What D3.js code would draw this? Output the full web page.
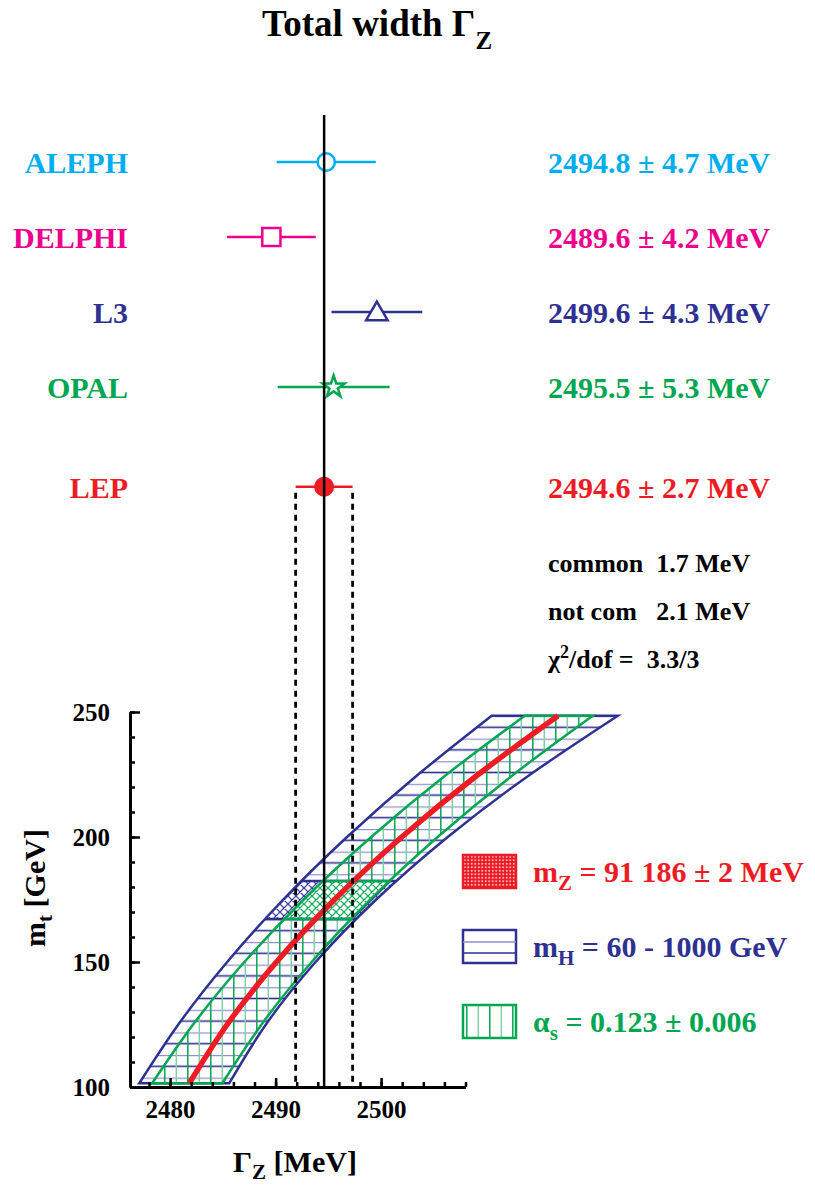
<!DOCTYPE html>
<html>
<head>
<meta charset="utf-8">
<script src="https://cdn.jsdelivr.net/npm/d3@7"></script>
<style>
  body { margin: 0; background: #fff; }
  svg text { font-family: "Liberation Serif", "Times New Roman", serif; font-weight: bold; }
</style>
</head>
<body>
<div id="chart"></div>
<script>
// Z width measurements
const experiments = ["ALEPH", "DELPHI", "L3", "OPAL", "LEP"];
const gammaZ = [2494.8, 2489.6, 2499.6, 2495.5, 2494.6];
const gammaErr = [4.7, 4.2, 4.3, 5.3, 2.7];
const summaryLines = ["common  1.7 MeV", "not com   2.1 MeV"];
const chi2Value = "3.3/3";

// SM prediction vs top mass
const mtPoints  = [101.5, 125, 150, 175, 200, 225, 248.5];
const mhLow     = [2477.08, 2480.78, 2485.41, 2490.73, 2496.77, 2503.51, 2510.48];
const mhHigh    = [2485.61, 2489.08, 2493.79, 2499.54, 2506.32, 2514.14, 2522.44];
const alphaLow  = [2478.30, 2482.18, 2487.04, 2492.67, 2499.06, 2506.21, 2513.62];
const alphaHigh = [2484.95, 2488.67, 2493.42, 2498.98, 2505.36, 2512.56, 2520.07];
const mzCentral = [2481.82, 2485.41, 2490.08, 2495.59, 2501.96, 2509.20, 2516.77];
const mtMeasured = [167.2, 182.4];

// axis ticks
const mtTicks = [100, 150, 200, 250];
const gzTicks = [2480, 2490, 2500];

// legend
const legendMain = ["m", "m", "α"];
const legendSub = ["Z", "H", "s"];
const legendRest = [" = 91 186 ± 2 MeV", " = 60 - 1000 GeV", " = 0.123 ± 0.006"];

// colours
const navy = "#2e3192", green = "#00a651", red = "#ed1c24";
const expColors = ["#00aeef", "#ec008c", navy, green, red];

const svg = d3.select("#chart").append("svg")
    .attr("width", 815)
    .attr("height", 1188);

// scales
const x = d3.scaleLinear().domain([2476.2, 2508]).range([130, 465.5]);
const y = d3.scaleLinear().domain([100, 250]).range([1087, 712]);
const rowY = d3.scaleLinear().domain([0, 3]).range([162, 387]);
const rowPos = experiments.map((d, i) => i < 4 ? i : 4.33);

// band shapes
function band(lo, hi) {
    return d3.area()
        .y((d, i) => y(mtPoints[i]))
        .x0((d, i) => x(lo[i]))
        .x1((d, i) => x(hi[i]))
        .curve(d3.curveNatural)(mtPoints);
}
const blueBand = band(mhLow, mhHigh);
const greenBand = band(alphaLow, alphaHigh);

// patterns
const defs = svg.append("defs");

const pH = defs.append("pattern").attr("id", "hatchH")
    .attr("patternUnits", "userSpaceOnUse").attr("width", 10).attr("height", 22.6)
    .attr("patternTransform", "translate(0,716)");
pH.append("line").attr("x1", 0).attr("x2", 10).attr("y1", 11.3).attr("y2", 11.3)
    .attr("stroke", navy).attr("stroke-width", 1.6);
pH.append("line").attr("x1", 0).attr("x2", 10).attr("y1", 0.01).attr("y2", 0.01)
    .attr("stroke", "#8f91c8").attr("stroke-width", 2.4);

const pV = defs.append("pattern").attr("id", "hatchV")
    .attr("patternUnits", "userSpaceOnUse").attr("width", 23).attr("height", 10)
    .attr("patternTransform", "translate(141,0)");
pV.append("line").attr("y1", 0).attr("y2", 10).attr("x1", 0.8).attr("x2", 0.8)
    .attr("stroke", green).attr("stroke-width", 1.5);
pV.append("line").attr("y1", 0).attr("y2", 10).attr("x1", 12.3).attr("x2", 12.3)
    .attr("stroke", "#7fd0a6").attr("stroke-width", 1.5);

function crossPattern(id, color) {
    const p = defs.append("pattern").attr("id", id)
        .attr("patternUnits", "userSpaceOnUse").attr("width", 8).attr("height", 8);
    p.append("path").attr("d", "M0,0L8,8M8,0L0,8M-1,7L1,9M7,-1L9,1")
        .attr("stroke", color).attr("stroke-width", 1.2).attr("fill", "none");
}
crossPattern("crossBlue", navy);
crossPattern("crossGreen", green);

const pR = defs.append("pattern").attr("id", "dense")
    .attr("patternUnits", "userSpaceOnUse").attr("width", 3.5).attr("height", 3.5);
pR.append("rect").attr("width", 3.5).attr("height", 3.5).attr("fill", red);
pR.append("circle").attr("cx", 1.75).attr("cy", 1.75).attr("r", 0.8).attr("fill", "#fff");

defs.append("clipPath").attr("id", "mtClip")
    .append("rect")
    .attr("x", 0).attr("width", 815)
    .attr("y", y(mtMeasured[1]))
    .attr("height", y(mtMeasured[0]) - y(mtMeasured[1]));
defs.append("clipPath").attr("id", "blueClip").append("path").attr("d", blueBand);
defs.append("clipPath").attr("id", "greenClip").append("path").attr("d", greenBand);

// title
const title = svg.append("text").attr("x", 262).attr("y", 36)
    .style("font-size", "37px").text("Total width Γ");
title.append("tspan").attr("dy", 13).style("font-size", "25px").text("Z");

// hatched bands
svg.append("path").attr("d", blueBand).attr("fill", "url(#hatchH)");
svg.append("path").attr("d", greenBand).attr("fill", "url(#hatchV)");

// measured top mass region
const mtG = svg.append("g").attr("clip-path", "url(#mtClip)");
mtG.append("path").attr("d", blueBand).attr("fill", "#fff");
mtG.append("path").attr("d", blueBand).attr("fill", "url(#crossBlue)");
mtG.append("path").attr("d", greenBand).attr("fill", "#fff");
mtG.append("path").attr("d", greenBand).attr("fill", "url(#crossGreen)");

svg.append("g").attr("clip-path", "url(#blueClip)")
    .selectAll("line").data(mtMeasured).join("line")
    .attr("x1", 0).attr("x2", 815)
    .attr("y1", d => y(d)).attr("y2", d => y(d))
    .attr("stroke", navy).attr("stroke-width", 2.5);
svg.append("g").attr("clip-path", "url(#greenClip)")
    .selectAll("line").data(mtMeasured).join("line")
    .attr("x1", 0).attr("x2", 815)
    .attr("y1", d => y(d)).attr("y2", d => y(d))
    .attr("stroke", green).attr("stroke-width", 2.5);

// band outlines
svg.append("path").attr("d", blueBand).attr("fill", "none")
    .attr("stroke", navy).attr("stroke-width", 2.5);
svg.append("path").attr("d", greenBand).attr("fill", "none")
    .attr("stroke", green).attr("stroke-width", 2.5);

// central m_Z line
svg.append("path")
    .attr("d", d3.line()
        .x((d, i) => x(mzCentral[i]))
        .y((d, i) => y(mtPoints[i]))
        .curve(d3.curveNatural)(mtPoints))
    .attr("fill", "none").attr("stroke", red).attr("stroke-width", 5.5);

// axes
const axisFont = g => g.attr("font-size", 25)
    .call(g => g.select(".domain").attr("stroke-width", 3))
    .call(g => g.selectAll(".tick line").attr("stroke-width", 2.5));

svg.append("g").attr("transform", `translate(0,${y(100)})`)
    .call(d3.axisBottom(x).tickValues(x.ticks(16)).tickSize(-5).tickSizeOuter(0).tickFormat(""))
    .call(axisFont);
svg.append("g").attr("transform", `translate(0,${y(100)})`)
    .call(d3.axisBottom(x).tickValues(gzTicks).tickSize(-9).tickSizeOuter(0)
        .tickPadding(13).tickFormat(d3.format("d")))
    .call(axisFont);
svg.append("g").attr("transform", `translate(${x.range()[0]},0)`)
    .call(d3.axisLeft(y).tickValues(y.ticks(15)).tickSize(-5).tickSizeOuter(0).tickFormat(""))
    .call(axisFont);
svg.append("g").attr("transform", `translate(${x.range()[0]},0)`)
    .call(d3.axisLeft(y).tickValues(mtTicks).tickSize(-10).tickSizeOuter(0).tickPadding(20))
    .call(axisFont);

// axis titles
const xt = svg.append("text").attr("x", 233).attr("y", 1172).style("font-size", "30px").text("Γ");
xt.append("tspan").attr("dy", 7).style("font-size", "21px").text("Z");
xt.append("tspan").attr("dy", -7).text(" [MeV]");

const yt = svg.append("text").attr("transform", "translate(45,888) rotate(-90)")
    .attr("text-anchor", "middle").style("font-size", "30px").text("m");
yt.append("tspan").attr("dy", 7).style("font-size", "21px").text("t");
yt.append("tspan").attr("dy", -7).text(" [GeV]");

// measurement rows
const rows = svg.append("g").selectAll("g").data(experiments).join("g")
    .attr("transform", (d, i) => `translate(0,${rowY(rowPos[i])})`);

rows.append("line")
    .attr("x1", (d, i) => x(gammaZ[i] - gammaErr[i]))
    .attr("x2", (d, i) => x(gammaZ[i] + gammaErr[i]))
    .attr("stroke", (d, i) => expColors[i]).attr("stroke-width", 2.5);

const symbolTypes = [d3.symbolCircle, d3.symbolSquare, d3.symbolTriangle, d3.symbolStar, d3.symbolCircle];
const symbolSizes = [235, 330, 200, 150, 240];
rows.append("path")
    .attr("transform", (d, i) => `translate(${x(gammaZ[i])},${i === 2 ? 2 : 0})`)
    .attr("d", (d, i) => d3.symbol(symbolTypes[i], symbolSizes[i])())
    .attr("fill", (d, i) => i === 4 ? red : "#fff")
    .attr("stroke", (d, i) => expColors[i]).attr("stroke-width", 2.5);

rows.append("text").attr("x", 128).attr("y", 11).attr("text-anchor", "end")
    .style("font-size", "30px").attr("fill", (d, i) => expColors[i]).text(d => d);

rows.append("text").attr("x", 548).attr("y", 11)
    .style("font-size", "30px").attr("fill", (d, i) => expColors[i])
    .text((d, i) => `${gammaZ[i].toFixed(1)} ± ${gammaErr[i].toFixed(1)} MeV`);

// LEP error band lines
const lep = experiments.length - 1;
svg.selectAll("line.dash").data([gammaZ[lep] - gammaErr[lep], gammaZ[lep] + gammaErr[lep]])
    .join("line")
    .attr("x1", d => x(d)).attr("x2", d => x(d))
    .attr("y1", rowY(rowPos[lep]) + 6).attr("y2", y(100))
    .attr("stroke", "#000").attr("stroke-width", 2.8).attr("stroke-dasharray", "6,5");

svg.append("line")
    .attr("x1", x(gammaZ[lep])).attr("x2", x(gammaZ[lep]))
    .attr("y1", 115).attr("y2", y(100))
    .attr("stroke", "#000").attr("stroke-width", 2.5);

// error summary
svg.selectAll("text.summary").data(summaryLines).join("text")
    .attr("x", 548).attr("y", (d, i) => 572 + i * 48)
    .style("font-size", "26px").style("white-space", "pre").text(d => d);
const chi = svg.append("text").attr("x", 548).attr("y", 668)
    .style("font-size", "26px").style("white-space", "pre").text("χ");
chi.append("tspan").attr("dy", -10).style("font-size", "18px").text("2");
chi.append("tspan").attr("dy", 10).text(`/dof =  ${chi2Value}`);

// legend
const legFills = ["url(#dense)", "#fff", "url(#hatchV)"];
const legColors = [red, navy, green];
const leg = svg.append("g").selectAll("g").data(legendMain).join("g")
    .attr("transform", (d, i) => `translate(463,${855 + i * 75})`);
leg.append("rect").attr("width", 53).attr("height", 33)
    .attr("fill", (d, i) => legFills[i])
    .attr("stroke", (d, i) => legColors[i]).attr("stroke-width", 2.5);
leg.filter((d, i) => i === 1).selectAll("line").data([12, 23]).join("line")
    .attr("x1", 0).attr("x2", 53).attr("y1", d => d).attr("y2", d => d)
    .attr("stroke", (d, i) => i ? navy : "#8f91c8").attr("stroke-width", 1.6);
const lt = leg.append("text").attr("x", 70).attr("y", 27)
    .style("font-size", "30px").attr("fill", (d, i) => legColors[i]).text(d => d);
lt.append("tspan").attr("dy", 8).style("font-size", "21px").text((d, i) => legendSub[i]);
lt.append("tspan").attr("dy", -8).text((d, i) => legendRest[i]);
</script>
</body>
</html>
